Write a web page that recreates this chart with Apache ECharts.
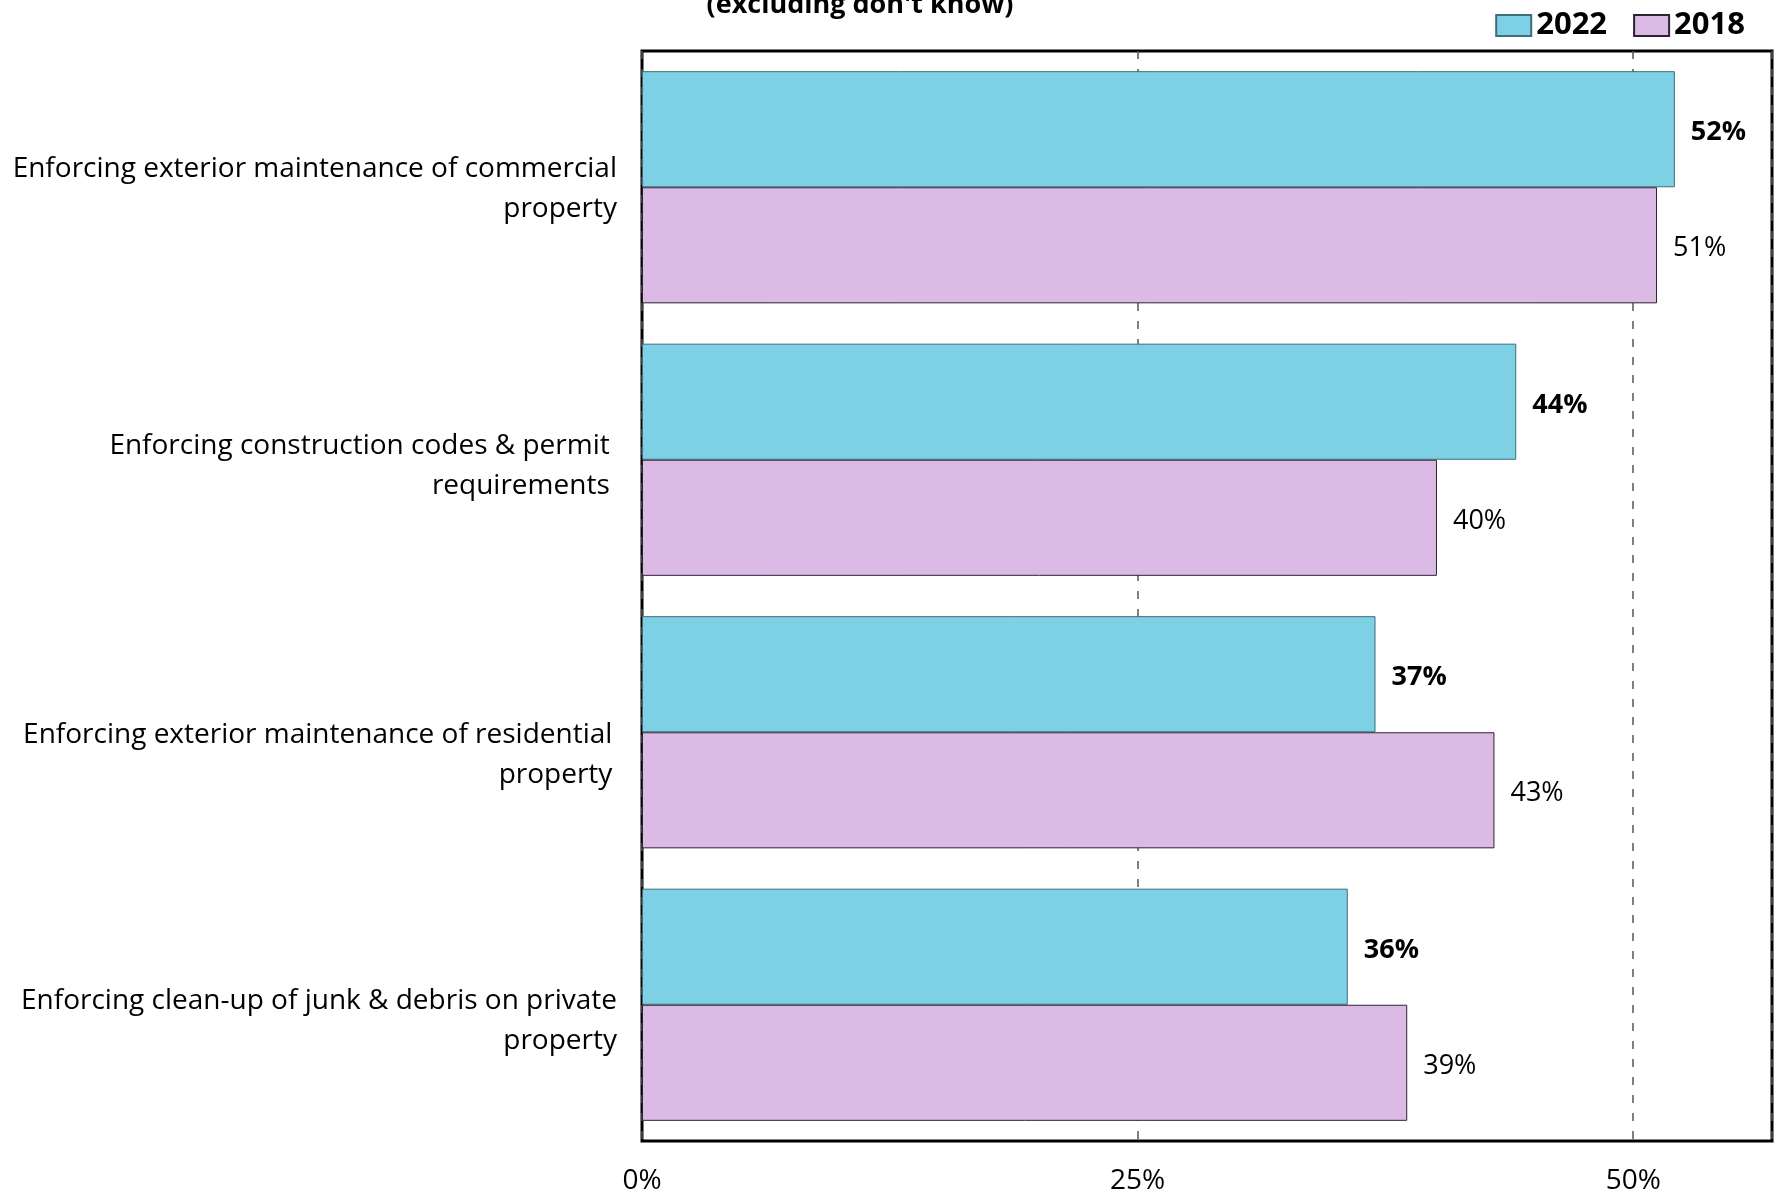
<!DOCTYPE html>
<html>
<head>
<meta charset="utf-8">
<script src="https://cdn.jsdelivr.net/npm/echarts@6/dist/echarts.min.js"></script>
<style>
html,body{margin:0;padding:0;background:#fff;}
#chart{width:1777px;height:1193px;}
</style>
</head>
<body>
<div id="chart"></div>
<script>
var categories = [
  "Enforcing exterior maintenance of commercial\nproperty",
  "Enforcing construction codes & permit \nrequirements ",
  "Enforcing exterior maintenance of residential\u2009\nproperty\u2009",
  "Enforcing clean-up of junk & debris on private\nproperty"
];
var values2022 = [52.1, 44.1, 37.0, 35.6];
var values2018 = [51.2, 40.1, 43.0, 38.6];
var seriesNames = ["2022", "2018"];
var xTicks = [0, 25, 50];
var subtitle = "(excluding don't know)";

var FONT = "'Open Sans', 'Noto Sans', sans-serif";
// per-label vertical nudges (style only): height of an invisible leading spacer line
var labelSpacer = [4, 12, 46, 32];
var richStyles = {n: {fontFamily: FONT, fontSize: 28, color: '#000', lineHeight: 40}};
labelSpacer.forEach(function (d, i) {
  richStyles['s' + i] = {fontSize: 2, lineHeight: d, color: 'rgba(0,0,0,0)'};
});

var chart = echarts.init(document.getElementById('chart'), null, {renderer: 'canvas'});
chart.setOption({
  animation: false,
  backgroundColor: '#ffffff',
  graphic: [{
    type: 'text', x: 860, y: -8,
    style: {text: subtitle, fontFamily: FONT, fontWeight: 'bold', fontSize: 27, fill: '#000', textAlign: 'center'}
  }],
  legend: {
    data: seriesNames, right: 27, top: 5, itemWidth: 35, itemHeight: 21, itemGap: 26,
    icon: 'rect',
    textStyle: {fontFamily: FONT, fontWeight: 'bold', fontSize: 31, color: '#000'}
  },
  grid: {left: 642, top: 51, right: 5, bottom: 52, show: true, borderColor: '#000', borderWidth: 3,
    containLabel: false, outerBoundsMode: 'none'},
  xAxis: {
    type: 'value', min: 0, max: 57, interval: 25,
    axisLine: {show: false}, axisTick: {show: false},
    axisLabel: {formatter: '{value}%', fontFamily: FONT, fontSize: 28, color: '#000', margin: 26, showMaxLabel: false},
    splitLine: {show: true, lineStyle: {type: [8, 10], color: '#555', width: 1.5}}
  },
  yAxis: {
    type: 'category', data: categories, inverse: true,
    axisLine: {show: false}, axisTick: {show: false},
    axisLabel: {
      fontFamily: FONT, fontSize: 28, color: '#000', margin: 25, align: 'right', lineHeight: 40,
      formatter: function (value, idx) {
        return '{s' + idx + '| }\n' + value.split('\n').map(function (l) {
          return '{n|' + l + '}';
        }).join('\n');
      },
      rich: richStyles
    }
  },
  series: [
    {
      name: seriesNames[0], type: 'bar', data: values2022, barGap: '0%', barCategoryGap: '14.8%',
      itemStyle: {color: '#7ED0E4', borderColor: '#3d6f7b', borderWidth: 1},
      label: {show: true, position: 'right', distance: 16, offset: [0, 3.5], fontFamily: FONT, fontWeight: 'bold', fontSize: 27, color: '#000',
        formatter: function (p) { return Math.round(p.value) + '%'; }}
    },
    {
      name: seriesNames[1], type: 'bar', data: values2018, barGap: '0%', barCategoryGap: '14.8%',
      itemStyle: {color: '#DBBBE6', borderColor: '#2b2233', borderWidth: 1},
      label: {show: true, position: 'right', distance: 16, offset: [0, 3.5], fontFamily: FONT, fontSize: 27, color: '#000',
        formatter: function (p) { return Math.round(p.value) + '%'; }}
    }
  ]
});
</script>
</body>
</html>
